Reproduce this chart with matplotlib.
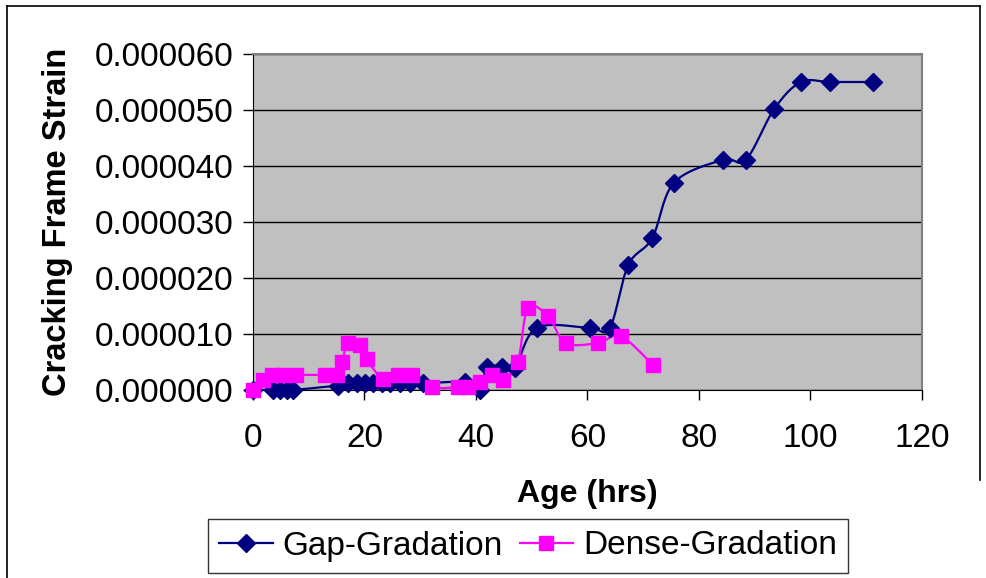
import numpy as np
import matplotlib.pyplot as plt
from matplotlib.lines import Line2D
from matplotlib.ticker import FormatStrFormatter

plt.rcParams['font.family'] = ['Liberation Sans', 'DejaVu Sans']

# age (hrs) and strain readings, strain in micro-units
gap_age = [0, 3.6, 4.8, 6.1, 7.2, 15.2, 17.0, 18.7, 20.1, 21.5, 23.1, 24.6, 26.4,
           28.2, 30.5, 38.0, 40.7, 42.0, 44.7, 47.0, 50.9, 60.4, 64.0, 67.3, 71.6,
           75.5, 84.3, 88.4, 93.5, 98.3, 103.5, 111.2]
gap_strain = [0, 0, 0, 0, 0, 0.8, 1.2, 1.2, 1.2, 1.2, 1.2, 1.2, 1.2,
              1.2, 1.2, 1.4, 0, 4.1, 4.1, 4.0, 11.1, 11.1, 11.1, 22.3, 27.1,
              37.0, 41.1, 41.1, 50.2, 55.0, 55.0, 55.0]

dense_age = [0, 1.8, 3.4, 5.4, 7.7, 12.9, 15.1, 16.0, 17.0, 19.2, 20.4, 23.3, 26.0,
             28.5, 32.1, 36.8, 38.6, 40.7, 42.9, 44.9, 47.5, 49.3, 52.9, 56.1,
             61.9, 66.0, 71.7]
dense_strain = [0, 1.8, 2.7, 2.7, 2.7, 2.7, 2.7, 5.0, 8.4, 8.0, 5.5, 2.0, 2.7,
                2.7, 0.5, 0.5, 0.5, 1.4, 2.7, 1.8, 5.0, 14.6, 13.2, 8.4,
                8.4, 9.6, 4.5]

x_ticks = [0, 20, 40, 60, 80, 100, 120]
y_ticks = [0, 0.00001, 0.00002, 0.00003, 0.00004, 0.00005, 0.00006]


def smooth(x, y, n=20):
    # bezier smoothing through every point, like a spreadsheet "smoothed line"
    p = np.column_stack([x, y]).astype(float)
    p = np.vstack([p[0], p, p[-1]])
    out = []
    t = np.linspace(0, 1, n)[:, None]
    for i in range(1, len(p) - 2):
        p0, p3 = p[i], p[i + 1]
        c1 = p0 + (p[i + 1] - p[i - 1]) / 6
        c2 = p3 - (p[i + 2] - p[i]) / 6
        seg = ((1 - t) ** 3) * p0 + 3 * ((1 - t) ** 2) * t * c1 \
            + 3 * (1 - t) * t ** 2 * c2 + t ** 3 * p3
        out.append(seg)
    s = np.vstack(out)
    return s[:, 0], s[:, 1]


fig = plt.figure(figsize=(9.87, 5.78), dpi=100)
ax = fig.add_axes([253 / 987, 1 - 390 / 578, (922 - 253) / 987, (390 - 54) / 578])
ax.set_facecolor('#C0C0C0')

gy = np.array(gap_strain) * 1e-6
dy = np.array(dense_strain) * 1e-6

sx, sy = smooth(gap_age, gy)
ax.plot(sx, sy, color='#000080', lw=1.6, zorder=3)
ax.plot(gap_age, gy, 'D', color='#000080', ms=9, zorder=4, clip_on=False)

sx, sy = smooth(dense_age, dy)
ax.plot(sx, sy, color='#FF00FF', lw=1.6, zorder=3)
ax.plot(dense_age, dy, 's', color='#FF00FF', ms=10, zorder=4, clip_on=False)

ax.set_xlim(0, 120)
ax.set_ylim(0, 0.00006)
ax.set_xticks(x_ticks)
ax.set_yticks(y_ticks)
ax.yaxis.set_major_formatter(FormatStrFormatter('%.6f'))
ax.tick_params(labelsize=24, length=7, width=1, colors='black', pad=7)
ax.tick_params(axis='x', pad=17)
ax.grid(axis='y', color='black', lw=1)
ax.set_axisbelow(True)
for s in ['top', 'right']:
    ax.spines[s].set_color('#808080')
    ax.spines[s].set_linewidth(1.5)
for s in ['left', 'bottom']:
    ax.spines[s].set_color('black')

ax.set_xlabel('Age (hrs)', fontsize=23, fontweight='bold', labelpad=18)
ax.set_ylabel('Cracking Frame Strain', fontsize=23.5, fontweight='bold', labelpad=16)

handles = [Line2D([], [], color='#000080', lw=1.6, marker='D', ms=9),
           Line2D([], [], color='#FF00FF', lw=1.6, marker='s', ms=10)]
leg = fig.legend(handles, ['Gap-Gradation', 'Dense-Gradation'], ncol=2,
                 loc='center', bbox_to_anchor=(528 / 987, 1 - 546 / 578),
                 fontsize=24, frameon=True, fancybox=False, edgecolor='black',
                 handlelength=1.6, handletextpad=0.3, columnspacing=0.5,
                 borderpad=0.35, borderaxespad=0)
leg.get_frame().set_linewidth(1)

# outer chart border
fig.add_artist(Line2D([7 / 987, 7 / 987], [0, 1 - 6 / 578], color='black', lw=1.2))
fig.add_artist(Line2D([7 / 987, 980 / 987], [1 - 6 / 578, 1 - 6 / 578], color='black', lw=1.2))
fig.add_artist(Line2D([980 / 987, 980 / 987], [1 - 6 / 578, 1 - 480 / 578], color='black', lw=1.2))

fig.savefig('out.png', dpi=100)
